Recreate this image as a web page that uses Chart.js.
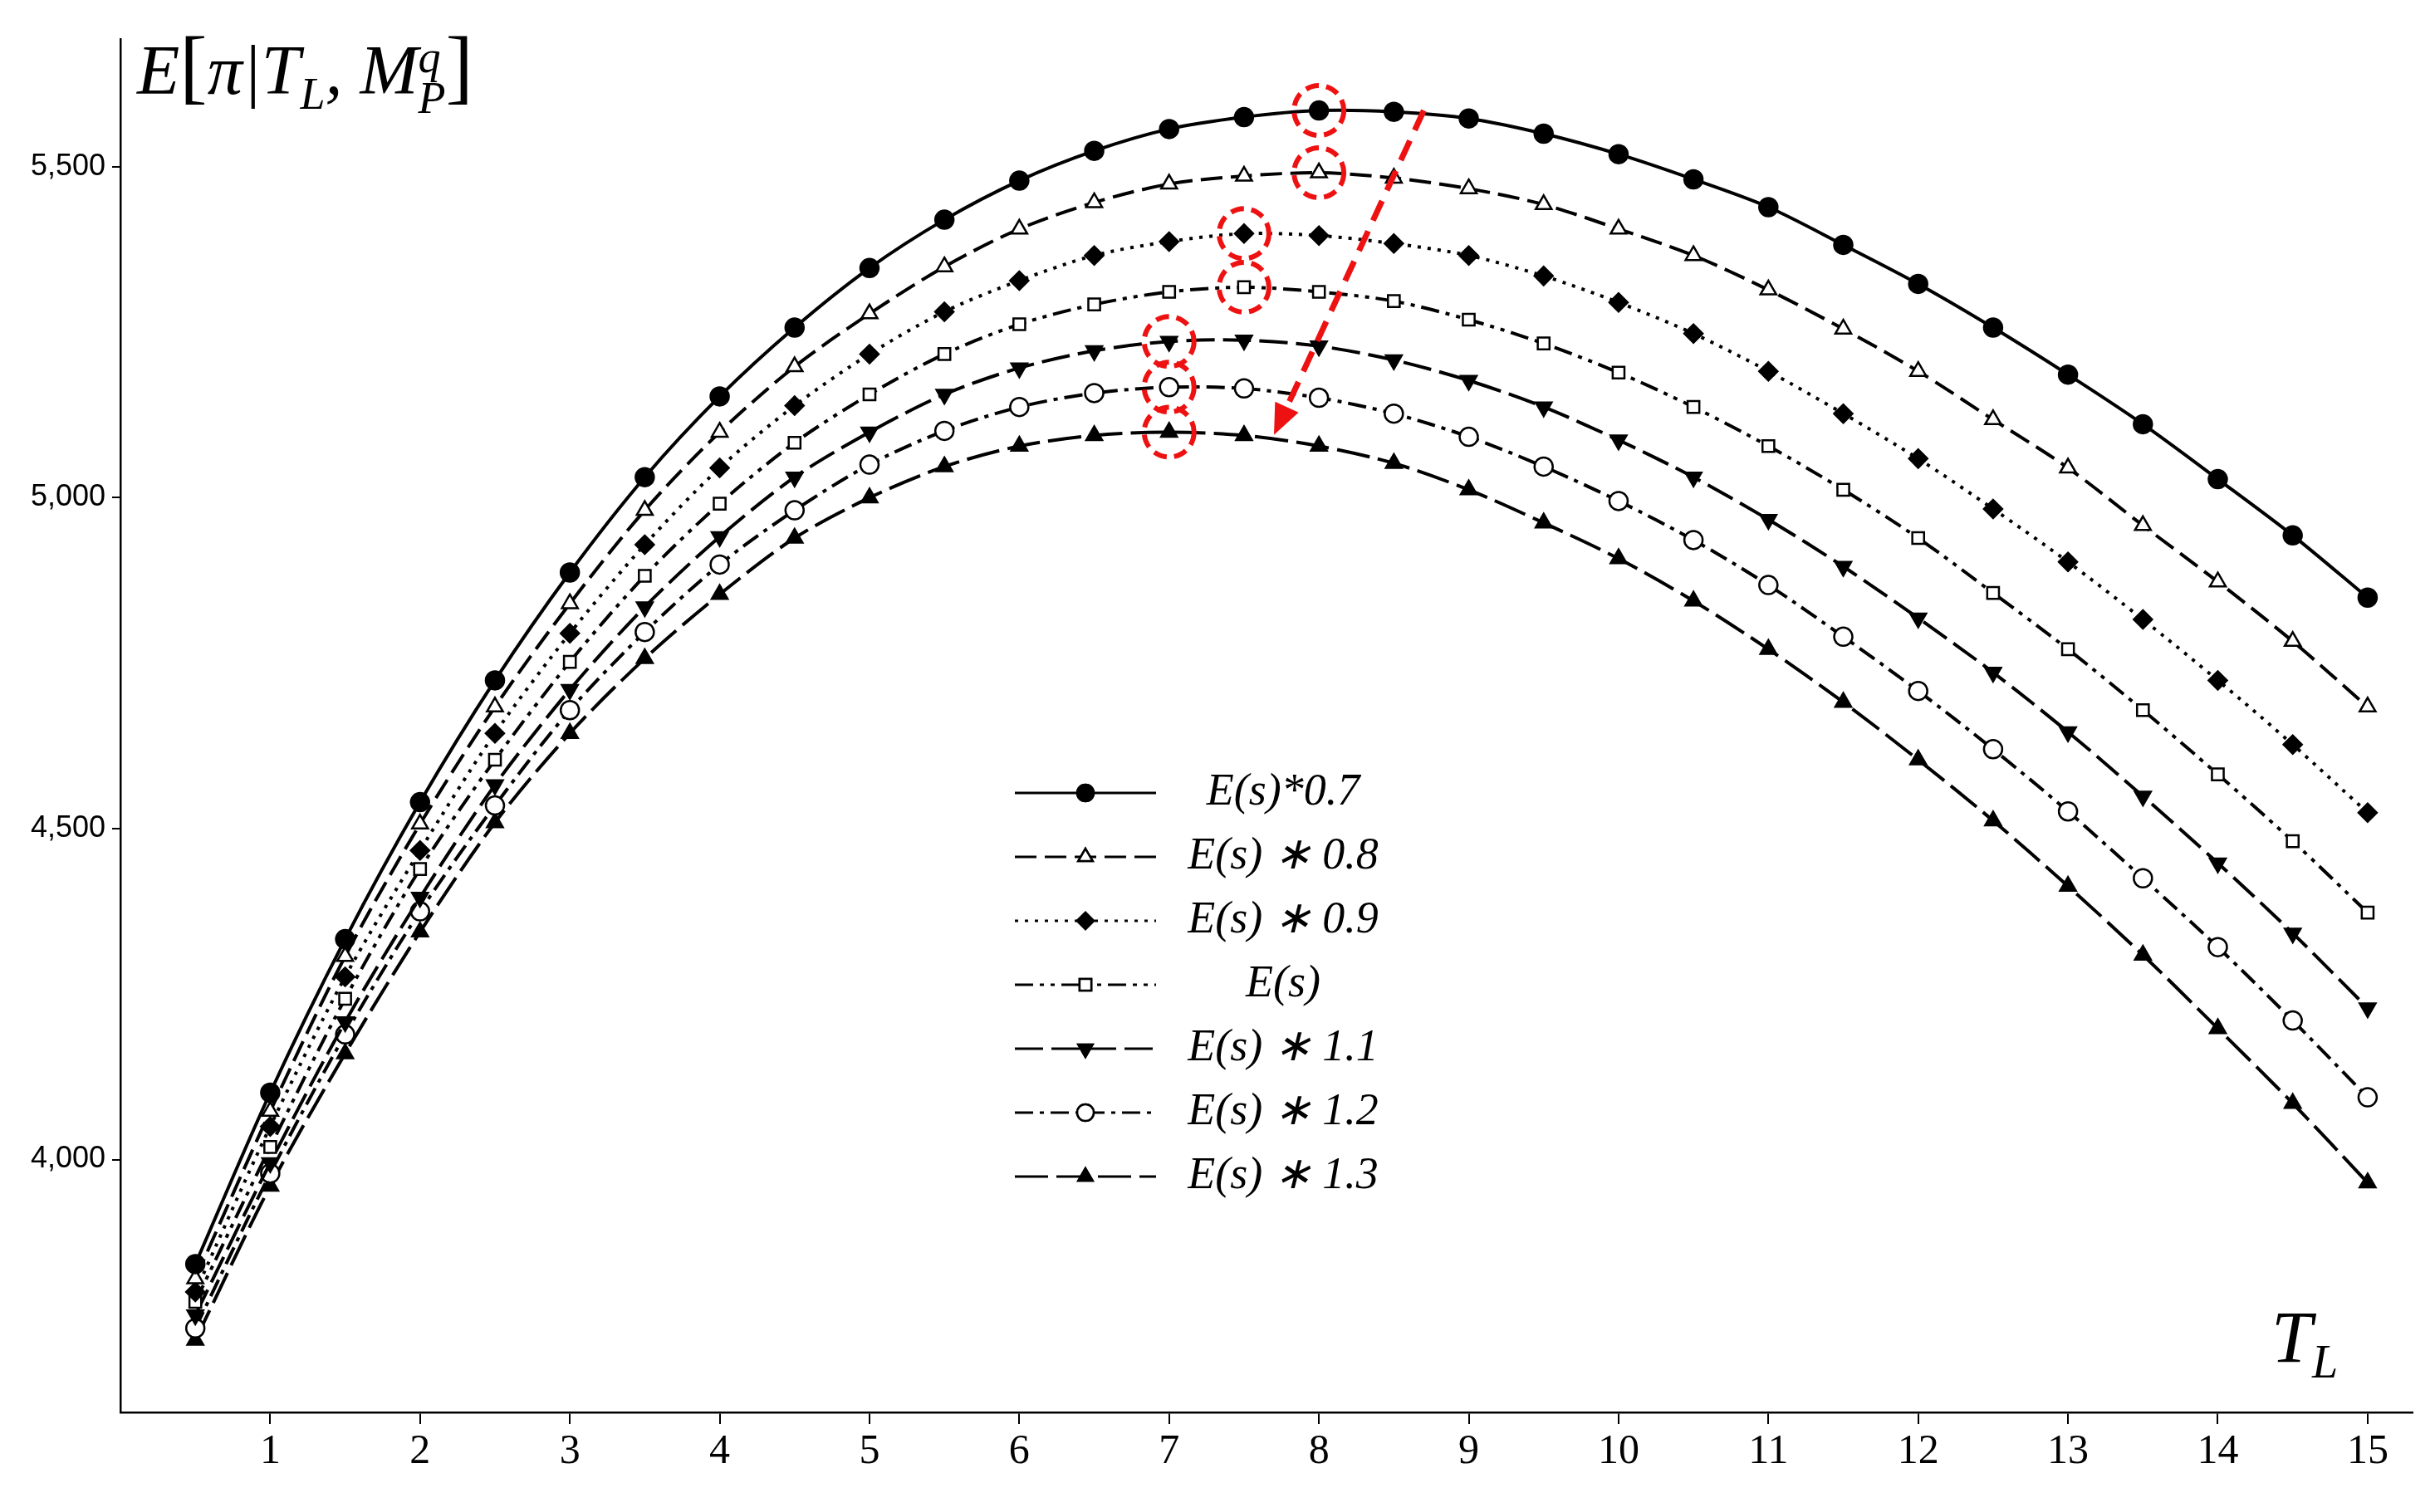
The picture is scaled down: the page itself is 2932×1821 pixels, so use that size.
<!DOCTYPE html>
<html><head><meta charset="utf-8">
<script src="https://cdn.jsdelivr.net/npm/chart.js@4"></script>
<style>
body{margin:0;background:#fff;}
#wrap{position:relative;width:2932px;height:1821px;}
.lbl{position:absolute;font-family:"Liberation Serif",serif;font-style:italic;color:#000;}
</style></head>
<body><div id="wrap"><canvas id="c" width="2932" height="1821"></canvas>
<div class="lbl" style="left:165px;top:30px;font-size:84px;line-height:1;">E<span style="font-style:normal;font-size:100px;">[</span>π|T<sub style="font-size:54px">L</sub>, M<span style="display:inline-block;vertical-align:middle;line-height:0.9;font-size:54px;"><span style="display:block">q</span><span style="display:block">P</span></span><span style="font-style:normal;font-size:100px;">]</span></div>
<div class="lbl" style="left:2735px;top:1560px;font-size:88px;">T<sub style="font-size:56px">L</sub></div>
</div>
<script>
const xs = [0.5,1,1.5,2,2.5,3,3.5,4,4.5,5,5.5,6,6.5,7,7.5,8,8.5,9,9.5,10,10.5,11,11.5,12,12.5,13,13.5,14,14.5,15];
const s07 = [3842,4101,4333,4540,4724,4887,5031,5153,5257,5347,5420,5479,5524,5557,5575,5585,5583,5573,5550,5519,5481,5439,5382,5323,5257,5186,5111,5028,4943,4849];
const s08 = [3820,4073,4307,4507,4684,4840,4981,5099,5198,5278,5349,5406,5446,5474,5486,5491,5483,5467,5443,5406,5366,5314,5255,5191,5118,5045,4958,4873,4783,4684];
const s09 = [3800,4050,4276,4467,4644,4795,4929,5045,5139,5217,5281,5328,5366,5387,5399,5396,5384,5366,5335,5295,5248,5191,5127,5059,4983,4903,4816,4724,4627,4524];
const s10 = [3785,4019,4243,4439,4604,4752,4882,4991,5083,5156,5217,5262,5292,5311,5318,5311,5297,5269,5233,5189,5137,5078,5012,4939,4856,4771,4679,4582,4481,4373];
const s11 = [3765,3995,4208,4396,4566,4710,4835,4941,5031,5099,5156,5196,5222,5236,5238,5229,5208,5177,5137,5087,5031,4967,4896,4818,4736,4646,4549,4448,4342,4229];
const s12 = [3745,3979,4189,4375,4535,4679,4797,4899,4981,5050,5101,5137,5158,5167,5165,5151,5127,5092,5047,4995,4936,4868,4790,4708,4620,4526,4425,4321,4210,4094];
const s13 = [3727,3960,4160,4344,4509,4644,4757,4854,4939,5000,5047,5078,5094,5099,5094,5078,5052,5012,4962,4908,4844,4771,4691,4604,4512,4413,4309,4198,4085,3965];
const seriesNames = ["E(s)*0.7","E(s) ∗ 0.8","E(s) ∗ 0.9","E(s)","E(s) ∗ 1.1","E(s) ∗ 1.2","E(s) ∗ 1.3"];
const peakX = [8,8,7.5,7.5,7,7,7];
const peakY = [5585,5491,5399,5318,5236,5167,5099];
const arrowX = [8.7,7.7];
const arrowY = [5585,5095];
const yTicks = [4000,4500,5000,5500];

const allSeries = [s07,s08,s09,s10,s11,s12,s13];
const styles = [
  {dash:[],ps:'circle',fill:true,rot:0},
  {dash:[26,10],ps:'triangle',fill:false,rot:0},
  {dash:[4,8],ps:'rectRot',fill:true,rot:0},
  {dash:[22,8,5,8,5,8],ps:'rect',fill:false,rot:0},
  {dash:[34,10],ps:'triangle',fill:true,rot:180},
  {dash:[22,8,5,8],ps:'circle',fill:false,rot:0},
  {dash:[40,10],ps:'triangle',fill:true,rot:0}
];
const datasets = allSeries.map((s,i)=>({
  label: seriesNames[i],
  data: s.map((v,j)=>({x:xs[j],y:v})),
  borderColor:'#000', borderWidth:4, borderDash:styles[i].dash,
  pointStyle:styles[i].ps, pointRotation:styles[i].rot,
  pointRadius: styles[i].ps==='rect'?10:11, pointBorderWidth:2.5, pointBorderColor:'#000',
  pointBackgroundColor: styles[i].fill?'#000':'#fff', tension:0.3
}));

const overlay = {
  id:'overlay',
  afterDatasetsDraw(chart){
    const ctx=chart.ctx, x=chart.scales.x, y=chart.scales.y;
    ctx.save();
    // red dashed circles
    ctx.strokeStyle='#ee1111'; ctx.lineWidth=6; ctx.setLineDash([16,9]);
    peakX.forEach((px,i)=>{ctx.beginPath();ctx.arc(x.getPixelForValue(px),y.getPixelForValue(peakY[i]),30,0,Math.PI*2);ctx.stroke();});
    // arrow
    const x1=x.getPixelForValue(arrowX[0]),y1=y.getPixelForValue(arrowY[0]);
    const x2=x.getPixelForValue(arrowX[1]),y2=y.getPixelForValue(arrowY[1]);
    const a=Math.atan2(y2-y1,x2-x1);
    ctx.setLineDash([26,14]); ctx.lineWidth=7;
    ctx.beginPath();ctx.moveTo(x1,y1);ctx.lineTo(x2-30*Math.cos(a),y2-30*Math.sin(a));ctx.stroke();
    ctx.setLineDash([]); ctx.fillStyle='#ee1111';
    ctx.beginPath();ctx.moveTo(x2,y2);
    ctx.lineTo(x2-40*Math.cos(a-0.4),y2-40*Math.sin(a-0.4));
    ctx.lineTo(x2-40*Math.cos(a+0.4),y2-40*Math.sin(a+0.4));ctx.closePath();ctx.fill();
    // legend
    const lx0=1222, lx1=1392, tx=1545, ty0=955, dy=77;
    datasets.forEach((d,i)=>{
      const yy=ty0+i*dy;
      ctx.strokeStyle='#000';ctx.lineWidth=3;ctx.setLineDash(d.borderDash);
      ctx.beginPath();ctx.moveTo(lx0,yy);ctx.lineTo(lx1,yy);ctx.stroke();
      ctx.setLineDash([]);ctx.lineWidth=2.5;ctx.fillStyle=d.pointBackgroundColor;
      Chart.helpers.drawPoint(ctx,{pointStyle:d.pointStyle,rotation:d.pointRotation,radius:10,borderWidth:2.5},(lx0+lx1)/2,yy);
      ctx.fill();ctx.stroke();
      ctx.fillStyle='#000';ctx.font='italic 54px "Liberation Serif"';ctx.textAlign='center';ctx.textBaseline='middle';
      ctx.fillText(d.label,tx,yy);
    });
    ctx.restore();
  }
};

new Chart(document.getElementById('c'),{
  type:'line',
  data:{datasets},
  plugins:[overlay],
  options:{
    responsive:false, animation:false,
    layout:{padding:{top:47,right:27,left:0,bottom:0}},
    plugins:{legend:{display:false},tooltip:{enabled:false}},
    scales:{
      x:{type:'linear',min:0,max:15.3,
        afterFit(s){s.height=120;},
        afterBuildTicks(s){s.ticks=[1,2,3,4,5,6,7,8,9,10,11,12,13,14,15].map(v=>({value:v}));},
        grid:{display:true,drawOnChartArea:false,tickLength:14,color:'#000',lineWidth:2},
        border:{color:'#000',width:2.5},
        ticks:{color:'#000',font:{family:'Liberation Serif',size:50},padding:4}},
      y:{min:3618,max:5693,
        afterFit(s){s.width=145;},
        afterBuildTicks(s){s.ticks=yTicks.map(v=>({value:v}));},
        grid:{display:true,drawOnChartArea:false,tickLength:10,color:'#000',lineWidth:2},
        border:{color:'#000',width:2.5},
        ticks:{color:'#000',font:{family:'Liberation Sans',size:36},padding:8}}
    }
  }
});
</script></body></html>
